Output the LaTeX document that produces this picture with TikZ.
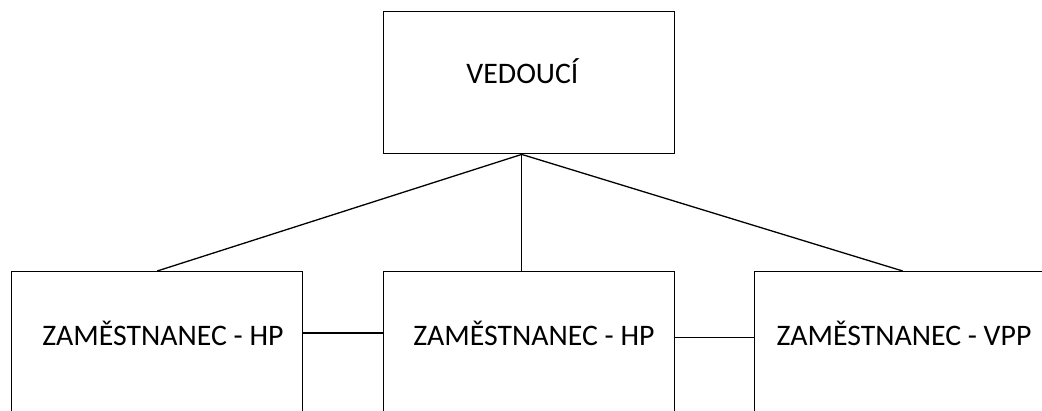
\documentclass[tikz,border=0pt]{standalone}
\usepackage{fontspec}
\setmainfont{Carlito}
\begin{document}
\begin{tikzpicture}[x=1pt,y=-1pt,
  box/.style={draw, line width=1.4pt, rectangle, inner sep=0pt, anchor=north west, minimum width=291pt},
  lbl/.style={font=\fontsize{29.8}{36}\selectfont, inner sep=0pt, anchor=base},
  conn/.style={line width=1.3pt}]
\useasboundingbox (0,0) rectangle (1042,410);
\clip (0,0) rectangle (1042,410);
\node[box, minimum height=142pt] (top) at (383,11) {};
\node[box, minimum height=220pt] (left) at (11,271) {};
\node[box, minimum height=220pt] (mid) at (383,271) {};
\node[box, minimum height=220pt, minimum width=296pt] (right) at (754,271) {};
\node[lbl] (tvedouci) at (522.5,83.5) {VEDOUCÍ};
\node[lbl] (tleft) at (163,345) {ZAMĚSTNANEC - HP};
\node[lbl] (tmid) at (534,345) {ZAMĚSTNANEC - HP};
\node[lbl] (tright) at (904,345) {ZAMĚSTNANEC - VPP};
\coordinate (hub) at ([xshift=-7.5pt]top.south);
\draw[conn] (hub) -- (left.north);
\draw[conn] (hub) -- (right.north);
\draw[conn] (hub) -- (hub |- mid.north);
\draw[conn] (left.east |- 0,333) -- (mid.west |- 0,333);
\draw[conn] (mid.east |- 0,337.5) -- (right.west |- 0,337.5);
\end{tikzpicture}
\end{document}
